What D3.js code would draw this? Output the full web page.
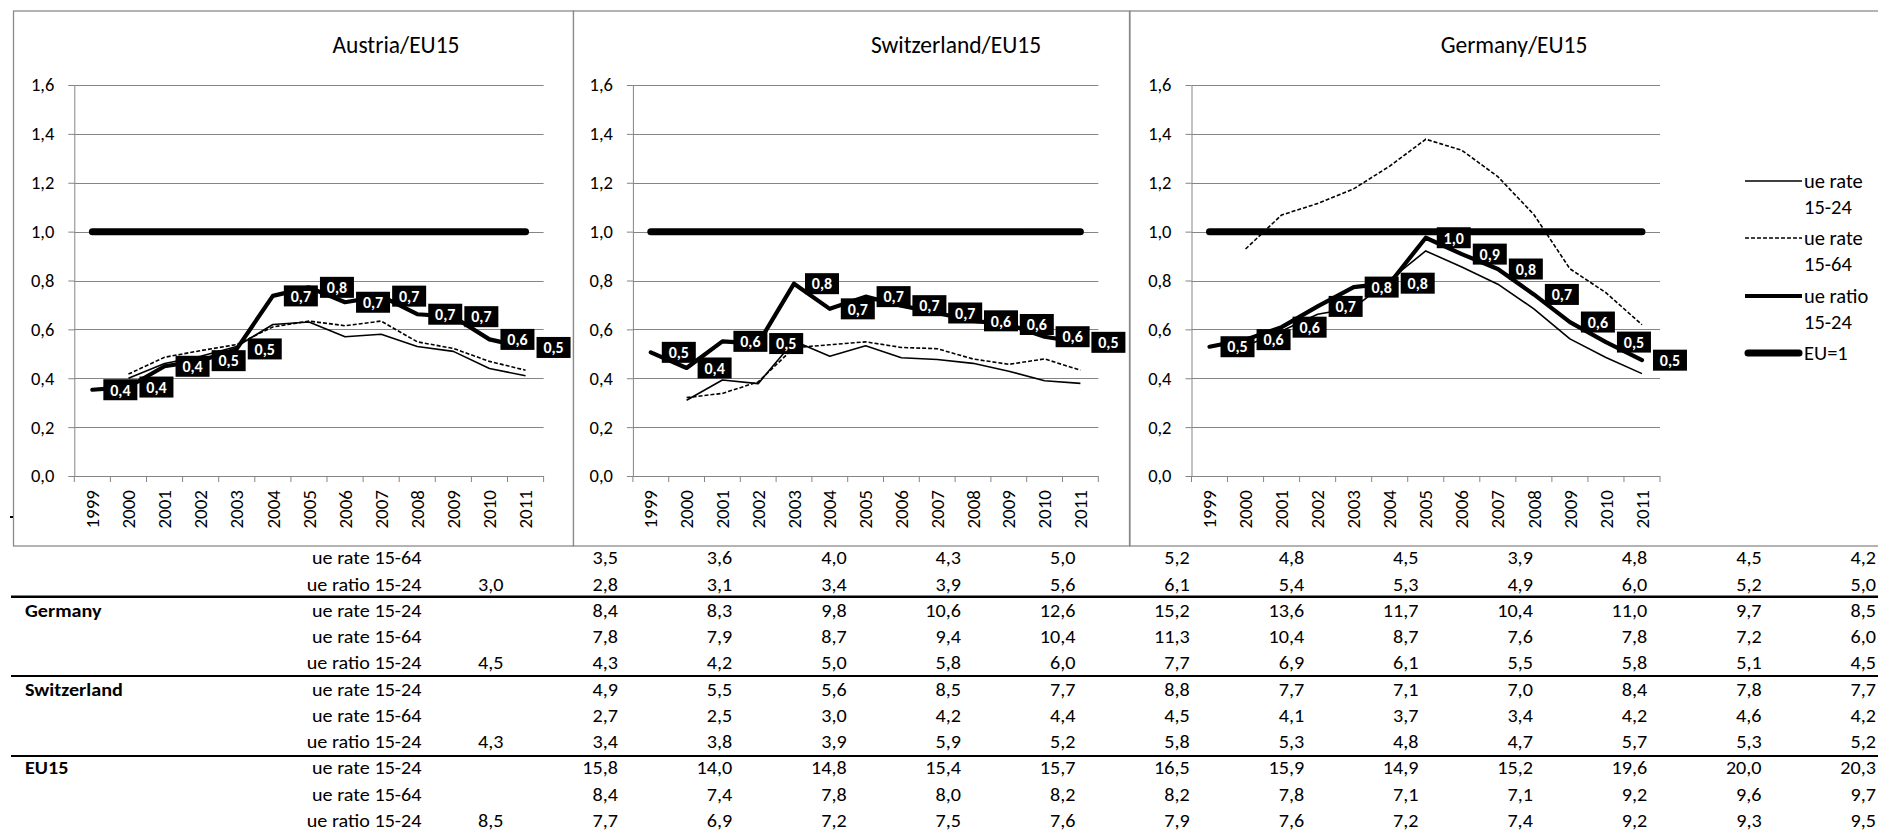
<!DOCTYPE html>
<meta charset="utf-8">
<style>
body { margin: 0; background: #fff; }
svg { display: block; font-family: Carlito, Lato, sans-serif; }
.grid { stroke: #858585; stroke-width: 1px; }
.panel { fill: #fff; stroke: #8a8a8a; stroke-width: 1.3px; }
.rate24 { fill: none; stroke: #000; stroke-width: 1.6px; stroke-linejoin: round; }
.rate64 { fill: none; stroke: #000; stroke-width: 1.6px; stroke-dasharray: 4,2; }
.ratio { fill: none; stroke: #000; stroke-width: 4.2px; stroke-linejoin: round; stroke-linecap: round; }
.eu { fill: none; stroke: #000; stroke-width: 7px; stroke-linecap: round; }
.tab { font-size: 18px; transform-box: fill-box; transform: scaleX(1.12); }
.tab.end { transform-origin: right center; }
.tab.start { transform-origin: left center; }
</style>
<body>
<script src="https://d3js.org/d3.v7.min.js"></script>
<script>

// categories and ticks
var years = [1999, 2000, 2001, 2002, 2003, 2004, 2005, 2006, 2007, 2008, 2009, 2010, 2011];
var yTicks = [0, 0.2, 0.4, 0.6, 0.8, 1.0, 1.2, 1.4, 1.6];

// chart series (country / EU15)
var atRate1524 = [null, 0.40, 0.46, 0.49, 0.53, 0.62, 0.63, 0.57, 0.58, 0.53, 0.51, 0.44, 0.41];
var atRate1564 = [null, 0.417, 0.486, 0.513, 0.538, 0.61, 0.634, 0.615, 0.634, 0.549, 0.522, 0.469, 0.433];
var atRatio = [0.353, 0.364, 0.449, 0.472, 0.52, 0.737, 0.772, 0.711, 0.736, 0.662, 0.652, 0.559, 0.526];

var chRate1524 = [null, 0.31, 0.393, 0.378, 0.552, 0.49, 0.533, 0.484, 0.477, 0.461, 0.429, 0.39, 0.379];
var chRate1564 = [null, 0.321, 0.338, 0.385, 0.525, 0.537, 0.549, 0.526, 0.521, 0.479, 0.457, 0.479, 0.433];
var chRatio = [0.506, 0.442, 0.551, 0.542, 0.787, 0.684, 0.734, 0.697, 0.667, 0.635, 0.62, 0.57, 0.547];

var deRate1524 = [null, 0.532, 0.593, 0.662, 0.688, 0.803, 0.921, 0.855, 0.785, 0.684, 0.561, 0.485, 0.419];
var deRate1564 = [null, 0.929, 1.068, 1.115, 1.175, 1.268, 1.378, 1.333, 1.225, 1.07, 0.848, 0.75, 0.619];
var deRatio = [0.529, 0.558, 0.609, 0.694, 0.773, 0.789, 0.975, 0.908, 0.847, 0.743, 0.63, 0.548, 0.474];

var euLine = [1, 1, 1, 1, 1, 1, 1, 1, 1, 1, 1, 1, 1];

var legendNames = [["ue rate", "15-24"], ["ue rate", "15-64"], ["ue ratio", "15-24"], ["EU=1"]];

// table below the charts
var tabAtRate1564 = [null, 3.5, 3.6, 4.0, 4.3, 5.0, 5.2, 4.8, 4.5, 3.9, 4.8, 4.5, 4.2];
var tabAtRatio = [3.0, 2.8, 3.1, 3.4, 3.9, 5.6, 6.1, 5.4, 5.3, 4.9, 6.0, 5.2, 5.0];
var tabDeRate1524 = [null, 8.4, 8.3, 9.8, 10.6, 12.6, 15.2, 13.6, 11.7, 10.4, 11.0, 9.7, 8.5];
var tabDeRate1564 = [null, 7.8, 7.9, 8.7, 9.4, 10.4, 11.3, 10.4, 8.7, 7.6, 7.8, 7.2, 6.0];
var tabDeRatio = [4.5, 4.3, 4.2, 5.0, 5.8, 6.0, 7.7, 6.9, 6.1, 5.5, 5.8, 5.1, 4.5];
var tabChRate1524 = [null, 4.9, 5.5, 5.6, 8.5, 7.7, 8.8, 7.7, 7.1, 7.0, 8.4, 7.8, 7.7];
var tabChRate1564 = [null, 2.7, 2.5, 3.0, 4.2, 4.4, 4.5, 4.1, 3.7, 3.4, 4.2, 4.6, 4.2];
var tabChRatio = [4.3, 3.4, 3.8, 3.9, 5.9, 5.2, 5.8, 5.3, 4.8, 4.7, 5.7, 5.3, 5.2];
var tabEuRate1524 = [null, 15.8, 14.0, 14.8, 15.4, 15.7, 16.5, 15.9, 14.9, 15.2, 19.6, 20.0, 20.3];
var tabEuRate1564 = [null, 8.4, 7.4, 7.8, 8.0, 8.2, 8.2, 7.8, 7.1, 7.1, 9.2, 9.6, 9.7];
var tabEuRatio = [8.5, 7.7, 6.9, 7.2, 7.5, 7.6, 7.9, 7.6, 7.2, 7.4, 9.2, 9.3, 9.5];

var tableRows = [
  {country: "", label: "ue rate 15-64", values: tabAtRate1564},
  {country: "", label: "ue ratio 15-24", values: tabAtRatio},
  {country: "Germany", label: "ue rate 15-24", values: tabDeRate1524},
  {country: "", label: "ue rate 15-64", values: tabDeRate1564},
  {country: "", label: "ue ratio 15-24", values: tabDeRatio},
  {country: "Switzerland", label: "ue rate 15-24", values: tabChRate1524},
  {country: "", label: "ue rate 15-64", values: tabChRate1564},
  {country: "", label: "ue ratio 15-24", values: tabChRatio},
  {country: "EU15", label: "ue rate 15-24", values: tabEuRate1524},
  {country: "", label: "ue rate 15-64", values: tabEuRate1564},
  {country: "", label: "ue ratio 15-24", values: tabEuRatio}
];

var fmt = function(v) { return d3.format(".1f")(v).replace(".", ","); };

var W = 1878, H = 831;
var svg = d3.select("body").append("svg")
  .attr("width", W)
  .attr("height", H);

// ---- table ----
var colX = d3.scaleLinear().domain([1999, 2011]).range([503.6, 1876]);
var rowY = d3.scaleLinear().domain([0, 10]).range([558, 820.5]);

var table = svg.append("g");

tableRows.forEach(function(r, i) {
  var g = table.append("g").attr("transform", "translate(0," + rowY(i) + ")");
  if (r.country) {
    g.append("text").attr("class", "tab start").attr("x", 25).attr("dy", "0.35em")
      .style("font-weight", "bold").text(r.country);
  }
  g.append("text").attr("class", "tab end").attr("x", 421.5).attr("dy", "0.35em")
    .attr("text-anchor", "end").text(r.label);
  g.selectAll("text.v").data(r.values.map(function(v, j) { return {v: v, year: years[j]}; })
      .filter(function(d) { return d.v != null; }))
    .enter().append("text")
    .attr("class", "v tab end")
    .attr("x", function(d) { return colX(d.year); })
    .attr("dy", "0.35em")
    .attr("text-anchor", "end")
    .text(function(d) { return fmt(d.v); });
});

// separators between country blocks
[[596.7, 2.6], [676, 2], [756, 2]].forEach(function(s) {
  table.append("line")
    .attr("x1", 11).attr("x2", W)
    .attr("y1", s[0]).attr("y2", s[0])
    .attr("stroke", "#000").attr("stroke-width", s[1]);
});

// ---- charts ----
var yScale = d3.scaleLinear().domain([0, 1.6]).range([476, 85]);

var panels = [
  {title: "Austria/EU15", box: [13.5, 11, 560, 535], plot: [74.3, 543.6], titleX: 396,
   rate24: atRate1524, rate64: atRate1564, ratio: atRatio, legend: false},
  {title: "Switzerland/EU15", box: [573.5, 11, 556, 535], plot: [632.9, 1098.3], titleX: 956,
   rate24: chRate1524, rate64: chRate1564, ratio: chRatio, legend: false},
  {title: "Germany/EU15", box: [1130, 11, 760, 535], plot: [1191.5, 1660], titleX: 1514,
   rate24: deRate1524, rate64: deRate1564, ratio: deRatio, legend: true}
];

panels.forEach(function(p) {
  var g = svg.append("g");

  g.append("rect").attr("class", "panel")
    .attr("x", p.box[0]).attr("y", p.box[1])
    .attr("width", p.box[2]).attr("height", p.box[3]);

  var x = d3.scaleBand().domain(years).range(p.plot);
  var cx = function(i) { return x(years[i]) + x.bandwidth() / 2; };

  // title
  g.append("text")
    .attr("x", p.titleX).attr("y", 45)
    .attr("dy", "0.35em")
    .attr("text-anchor", "middle")
    .style("font-size", "23.5px")
    .text(p.title);

  // gridlines
  g.selectAll("line.grid").data(yTicks).enter().append("line")
    .attr("class", "grid")
    .attr("x1", p.plot[0]).attr("x2", p.plot[1])
    .attr("y1", function(d) { return Math.round(yScale(d)) + 0.5; })
    .attr("y2", function(d) { return Math.round(yScale(d)) + 0.5; });

  // y axis
  var ya = g.append("g")
    .attr("transform", "translate(" + p.plot[0] + ",0)")
    .call(d3.axisLeft(yScale).tickValues(yTicks).tickSize(6).tickSizeOuter(0)
      .tickPadding(14).tickFormat(fmt));
  ya.attr("font-family", null).attr("font-size", null);
  ya.select(".domain").attr("stroke", "#858585");
  ya.selectAll(".tick line").attr("stroke", "#858585");
  ya.selectAll(".tick text").style("font-size", "18.5px");

  // x ticks between categories
  var edges = years.map(function(y) { return x(y); }).concat([p.plot[1]]);
  g.selectAll("line.xt").data(edges).enter().append("line")
    .attr("x1", function(d) { return d; }).attr("x2", function(d) { return d; })
    .attr("y1", yScale(0)).attr("y2", yScale(0) + 6)
    .attr("stroke", "#858585");

  // year labels
  var xa = g.append("g")
    .attr("transform", "translate(0," + yScale(0) + ")")
    .call(d3.axisBottom(x).tickSize(0).tickPadding(0));
  xa.select(".domain").remove();
  xa.attr("font-family", null).attr("font-size", null);
  xa.selectAll(".tick text")
    .attr("y", 0).attr("dy", "0.35em")
    .attr("transform", "translate(0,14) rotate(-90)")
    .attr("text-anchor", "end")
    .style("font-size", "19px");

  var line = d3.line()
    .defined(function(d) { return d != null; })
    .x(function(d, i) { return cx(i); })
    .y(function(d) { return yScale(d); });

  g.append("path").datum(p.rate24).attr("class", "rate24").attr("d", line);
  g.append("path").datum(p.rate64).attr("class", "rate64").attr("d", line);
  g.append("path").datum(p.ratio).attr("class", "ratio").attr("d", line);
  g.append("path").datum(euLine).attr("class", "eu").attr("d", line);

  // data labels of the ratio series
  var lab = g.selectAll("g.lab").data(p.ratio).enter().append("g")
    .attr("transform", function(d, i) { return "translate(" + cx(i) + "," + yScale(d) + ")"; });
  lab.append("rect")
    .attr("x", 11).attr("y", -10.5)
    .attr("width", 34).attr("height", 21)
    .attr("fill", "#000");
  lab.append("text")
    .attr("x", 28).attr("dy", "0.36em")
    .attr("text-anchor", "middle")
    .attr("fill", "#fff")
    .style("font-weight", "bold")
    .style("font-size", "16px")
    .text(fmt);

  if (p.legend) {
    var items = [
      {cls: "rate24", y: 181, names: legendNames[0]},
      {cls: "rate64", y: 238, names: legendNames[1]},
      {cls: "ratio", y: 296, names: legendNames[2]},
      {cls: "eu", y: 353, names: legendNames[3]}
    ];
    var lg = g.selectAll("g.leg").data(items).enter().append("g")
      .attr("transform", function(d) { return "translate(1745," + d.y + ")"; });
    lg.append("line")
      .attr("class", function(d) { return d.cls; })
      .attr("x1", function(d) { return d.cls === "eu" ? 3 : 0; })
      .attr("x2", function(d) { return d.cls === "eu" ? 54 : 57; })
      .attr("y1", 0).attr("y2", 0)
      .style("stroke-linecap", function(d) { return d.cls === "eu" ? "round" : "butt"; });
    lg.each(function(d) {
      var t = d3.select(this);
      d.names.forEach(function(n, k) {
        t.append("text")
          .attr("x", 59).attr("y", k * 26)
          .attr("dy", "0.35em")
          .style("font-size", "20.5px")
          .text(n);
      });
    });
  }
});

// lighter part of the top border on the right
svg.append("line")
  .attr("x1", 1340).attr("x2", W)
  .attr("y1", 11).attr("y2", 11)
  .attr("stroke", "#b4b4b4").attr("stroke-width", 1.3);

// small stray mark at the left edge
svg.append("line")
  .attr("x1", 10).attr("x2", 13)
  .attr("y1", 517).attr("y2", 517)
  .attr("stroke", "#000").attr("stroke-width", 2);

</script>
</body>
